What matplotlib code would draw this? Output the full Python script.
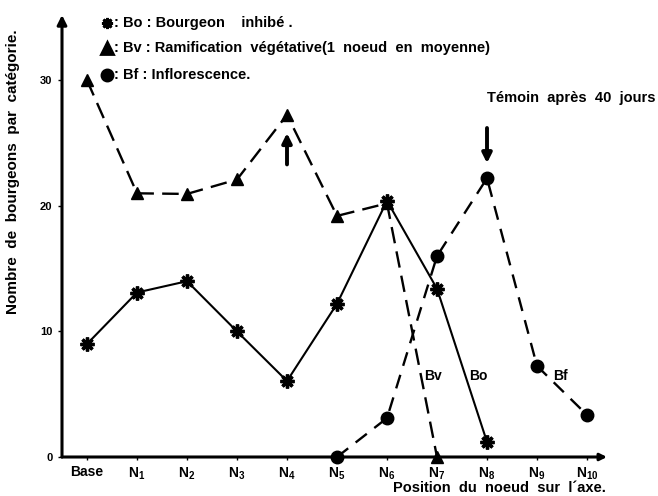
import matplotlib.pyplot as plt
import numpy as np

plt.rcParams['font.family'] = ['Liberation Sans', 'DejaVu Sans']
plt.rcParams['font.weight'] = 'bold'

positions = ["Base", "N1", "N2", "N3", "N4", "N5", "N6", "N7", "N8", "N9", "N10"]
tick_labels = ["Base"] + [r"N$_{\mathregular{%d}}$" % i for i in range(1, 11)]

# Bo : bourgeon inhibe (Base..N8)
bo_values = [9.0, 13.1, 14.0, 10.0, 6.05, 12.2, 20.4, 13.4, 1.2]
# Bv : ramification vegetative (Base..N7)
bv_values = [30.0, 21.0, 20.95, 22.1, 27.25, 19.2, 20.2, 0.0]
# Bf : inflorescence (N5..N10)
bf_start = 5
bf_values = [0.0, 3.1, 16.0, 22.2, 7.25, 3.35]

fig = plt.figure(figsize=(6.58, 4.96), dpi=100)
ax = fig.add_axes([62 / 658, 39 / 496, 545 / 658, 442 / 496])
ax.set_xlim(-0.5, 10.4)
ax.set_ylim(0, 35.2)

x_bo = np.arange(len(bo_values))
x_bv = np.arange(len(bv_values))
x_bf = np.arange(bf_start, bf_start + len(bf_values))

ax.plot(x_bv, bv_values, color='black', lw=1.7, ls=(0, (7, 3.5)),
        marker='^', ms=8, clip_on=False, zorder=3)
ax.plot(x_bf, bf_values, color='black', lw=1.7, ls=(0, (6, 4)),
        marker='o', ms=9, clip_on=False, zorder=3)
ax.plot(x_bo, bo_values, color='black', lw=1.5, ls='-',
        marker=(8, 2, 0), ms=10, mew=2.4, clip_on=False, zorder=4)

# axes with arrows
for s in ax.spines.values():
    s.set_visible(False)
ax.annotate('', xy=(0, 1.0), xytext=(0, 0), xycoords='axes fraction',
            arrowprops=dict(arrowstyle='-|>', color='black', lw=2.2,
                            mutation_scale=14, shrinkA=0, shrinkB=0))
ax.annotate('', xy=(1.0, 0), xytext=(0, 0), xycoords='axes fraction',
            arrowprops=dict(arrowstyle='-|>', color='black', lw=2.2,
                            mutation_scale=10, shrinkA=0, shrinkB=0))

ax.set_xticks(range(len(positions)))
ax.set_xticklabels(tick_labels, fontsize=10, fontweight='bold')
ax.set_yticks([0, 10, 20, 30])
ax.set_yticklabels(['0', '10', '20', '30'], fontsize=8, fontweight='bold')
ax.tick_params(axis='x', length=2, width=1, pad=4, direction='out')
ax.tick_params(axis='y', length=3, width=1, pad=4, direction='out')

ax.set_ylabel("Nombre  de  bourgeons  par  catégorie.", fontsize=11,
              fontweight='bold')
ax.yaxis.set_label_coords(-0.077, 0.645)

fig.text(606 / 658, 1 - 488 / 496, "Position  du  noeud  sur  l´axe.",
         ha='right', va='center', fontsize=10.5, fontweight='bold')

# legend drawn as text lines
leg_rows = [("Bo : Bourgeon    inhibé .", (8, 2, 0), 23),
            ("Bv : Ramification  végétative(1  noeud  en  moyenne)", '^', 48),
            ("Bf : Inflorescence.", 'o', 75)]
for text, mk, ypix in leg_rows:
    yf = 1 - ypix / 496
    fig.lines.append(plt.Line2D([107 / 658], [yf], marker=mk, color='black',
                                ms=8, mew=2, transform=fig.transFigure))
    fig.text(114 / 658, yf, ": " + text, ha='left', va='center',
             fontsize=10.5, fontweight='bold')

# series labels
ax.text(6.92, 6.45, "Bv", fontsize=10, fontweight='bold', ha='center', va='center')
ax.text(7.82, 6.45, "Bo", fontsize=10, fontweight='bold', ha='center', va='center')
ax.text(9.46, 6.45, "Bf", fontsize=10, fontweight='bold', ha='center', va='center')

# arrows
ax.annotate('', xy=(4, 25.8), xytext=(4, 23.3),
            arrowprops=dict(arrowstyle='-|>', color='black', lw=2.8,
                            mutation_scale=14, shrinkA=0, shrinkB=0))
ax.annotate('', xy=(8, 23.4), xytext=(8, 26.2),
            arrowprops=dict(arrowstyle='-|>', color='black', lw=2.8,
                            mutation_scale=14, shrinkA=0, shrinkB=0))
ax.text(8.0, 28.6, "Témoin  après  40  jours", fontsize=10.5, fontweight='bold',
        ha='left', va='center')

fig.savefig("out.png", dpi=100)
